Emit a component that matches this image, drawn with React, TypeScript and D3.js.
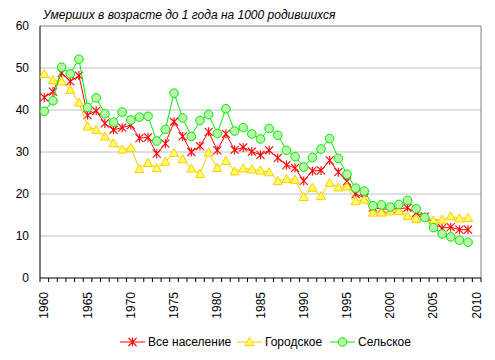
import React from "react";
import * as d3 from "d3";

const years: number[] = d3.range(1960, 2011);
const dataYears: number[] = d3.range(1960, 2010);
const xTickLabels: number[] = [1960, 1965, 1970, 1975, 1980, 1985, 1990, 1995, 2000, 2005, 2010];
const yTicks: number[] = [0, 10, 20, 30, 40, 50, 60];

const total: number[] = [
  43.0, 44.4, 48.8, 46.8, 48.2, 38.8, 39.8, 36.8, 35.3, 35.8,
  36.4, 33.3, 33.5, 29.6, 32.0, 37.2, 33.7, 30.0, 31.4, 34.8,
  30.4, 34.3, 30.5, 31.1, 30.1, 29.3, 30.4, 28.6, 26.9, 26.2,
  23.1, 25.5, 25.6, 28.0, 25.2, 23.0, 20.0, 19.1, 16.8, 16.4,
  16.4, 16.5, 16.7, 15.5, 14.6, 13.0, 11.9, 12.1, 11.5, 11.5,
];
const urban: number[] = [
  48.6, 47.1, 46.8, 44.8, 41.8, 36.1, 35.3, 33.7, 32.1, 30.6,
  31.0, 26.0, 27.4, 26.2, 27.7, 29.8, 28.3, 26.1, 24.8, 29.9,
  26.2, 27.9, 25.4, 26.1, 25.9, 25.6, 25.2, 23.1, 23.6, 23.4,
  19.3, 21.5, 19.5, 22.7, 21.6, 21.8, 18.3, 18.7, 15.6, 15.6,
  15.9, 16.0, 14.8, 14.1, 14.6, 13.7, 13.9, 14.7, 14.2, 14.3,
];
const rural: number[] = [
  39.7, 42.2, 50.2, 48.6, 52.1, 40.6, 42.9, 39.1, 37.1, 39.5,
  37.6, 38.3, 38.5, 32.6, 35.4, 44.0, 38.1, 33.7, 37.5, 38.9,
  34.4, 40.3, 35.0, 35.8, 34.3, 33.1, 35.6, 34.0, 30.4, 28.9,
  26.4, 28.7, 30.7, 33.2, 28.5, 24.7, 21.4, 20.7, 17.2, 17.4,
  16.9, 17.5, 18.5, 16.5, 14.4, 12.0, 10.5, 9.8, 9.0, 8.5,
];

const seriesNames: string[] = ["Все население", "Городское", "Сельское"];
const title = "Умерших в возрасте до 1 года на 1000 родившихся";

const W = 495;
const H = 360;
const left = 40;
const right = 481;
const top = 26;
const bottom = 278;
const font = "'Liberation Sans', Arial, sans-serif";

const x = d3.scaleBand<number>().domain(years).range([left, right]);
const y = d3.scaleLinear().domain([0, 60]).range([bottom, top]);

const colors = { total: "#ff0000", urban: "#ffcc00", rural: "#00ee00" };

function Star({ cx, cy }: { cx: number; cy: number }) {
  const r = 4;
  return (
    <g stroke={colors.total} strokeWidth={1.1}>
      <line x1={cx - r} y1={cy - r} x2={cx + r} y2={cy + r} />
      <line x1={cx - r} y1={cy + r} x2={cx + r} y2={cy - r} />
      <line x1={cx} y1={cy - r - 0.5} x2={cx} y2={cy + r + 0.5} />
    </g>
  );
}

function Tri({ cx, cy }: { cx: number; cy: number }) {
  const s = 4.5;
  const pts = `${cx},${cy - s} ${cx + s},${cy + s * 0.8} ${cx - s},${cy + s * 0.8}`;
  return <polygon points={pts} fill="#ffff66" stroke={colors.urban} strokeWidth={1} />;
}

function Circ({ cx, cy }: { cx: number; cy: number }) {
  return <circle cx={cx} cy={cy} r={4.3} fill="#b8f5a8" stroke={colors.rural} strokeWidth={1} />;
}

export default function App() {
  const cx = (yr: number) => (x(yr) as number) + x.bandwidth() / 2;
  const line = d3
    .line<number>()
    .x((_, i) => cx(dataYears[i]))
    .y((v) => y(v));

  const boundaries = years.map((yr) => x(yr) as number).concat([right]);

  const legendItems = [
    { name: seriesNames[0], color: colors.total, x0: 120, kind: "star" },
    { name: seriesNames[1], color: colors.urban, x0: 237, kind: "tri" },
    { name: seriesNames[2], color: colors.rural, x0: 330, kind: "circ" },
  ];
  const legY = 342;

  return (
    <svg
      width={W}
      height={H}
      style={{ position: "absolute", left: 0, top: 0, background: "#fff" }}
      fontFamily={font}
    >
      <rect x={0} y={0} width={W} height={H} fill="#fff" />
      <text x={43} y={19} fontSize={12} fontStyle="italic" fill="#000">
        {title}
      </text>
      {/* gridlines */}
      {yTicks.filter((t) => t > 0).map((t) => (
        <line
          key={t}
          x1={left}
          x2={right}
          y1={y(t)}
          y2={y(t)}
          stroke={t === 60 ? "#808080" : "#c0c0c0"}
          strokeWidth={1}
        />
      ))}
      <line x1={right} x2={right} y1={top} y2={bottom} stroke="#808080" />
      {/* axes */}
      <line x1={left} x2={left} y1={top} y2={bottom} stroke="#000" />
      <line x1={left} x2={right} y1={bottom} y2={bottom} stroke="#000" />
      {boundaries.map((bx, i) => (
        <line key={i} x1={bx} x2={bx} y1={bottom} y2={bottom + 4} stroke="#000" />
      ))}
      {yTicks.map((t) => (
        <text key={t} x={29} y={y(t)} dy="0.35em" textAnchor="end" fontSize={12} fill="#000">
          {t}
        </text>
      ))}
      {xTickLabels.map((yr) => (
        <text
          key={yr}
          transform={`translate(${cx(yr) + 4},${bottom + 14}) rotate(-90)`}
          textAnchor="end"
          fontSize={12}
          fill="#000"
        >
          {yr}
        </text>
      ))}
      {/* series */}
      <path d={line(total) || ""} fill="none" stroke={colors.total} strokeWidth={1} />
      {total.map((v, i) => (
        <Star key={i} cx={cx(dataYears[i])} cy={y(v)} />
      ))}
      <path d={line(urban) || ""} fill="none" stroke={colors.urban} strokeWidth={1} />
      {urban.map((v, i) => (
        <Tri key={i} cx={cx(dataYears[i])} cy={y(v)} />
      ))}
      <path d={line(rural) || ""} fill="none" stroke={colors.rural} strokeWidth={1} />
      {rural.map((v, i) => (
        <Circ key={i} cx={cx(dataYears[i])} cy={y(v)} />
      ))}
      {/* legend */}
      {legendItems.map((it) => (
        <g key={it.name}>
          <line x1={it.x0} x2={it.x0 + 25} y1={legY} y2={legY} stroke={it.color} strokeWidth={1} />
          {it.kind === "star" && <Star cx={it.x0 + 12.5} cy={legY} />}
          {it.kind === "tri" && <Tri cx={it.x0 + 12.5} cy={legY} />}
          {it.kind === "circ" && <Circ cx={it.x0 + 12.5} cy={legY} />}
          <text x={it.x0 + 28} y={legY} dy="0.35em" fontSize={12} fill="#000">
            {it.name}
          </text>
        </g>
      ))}
    </svg>
  );
}
